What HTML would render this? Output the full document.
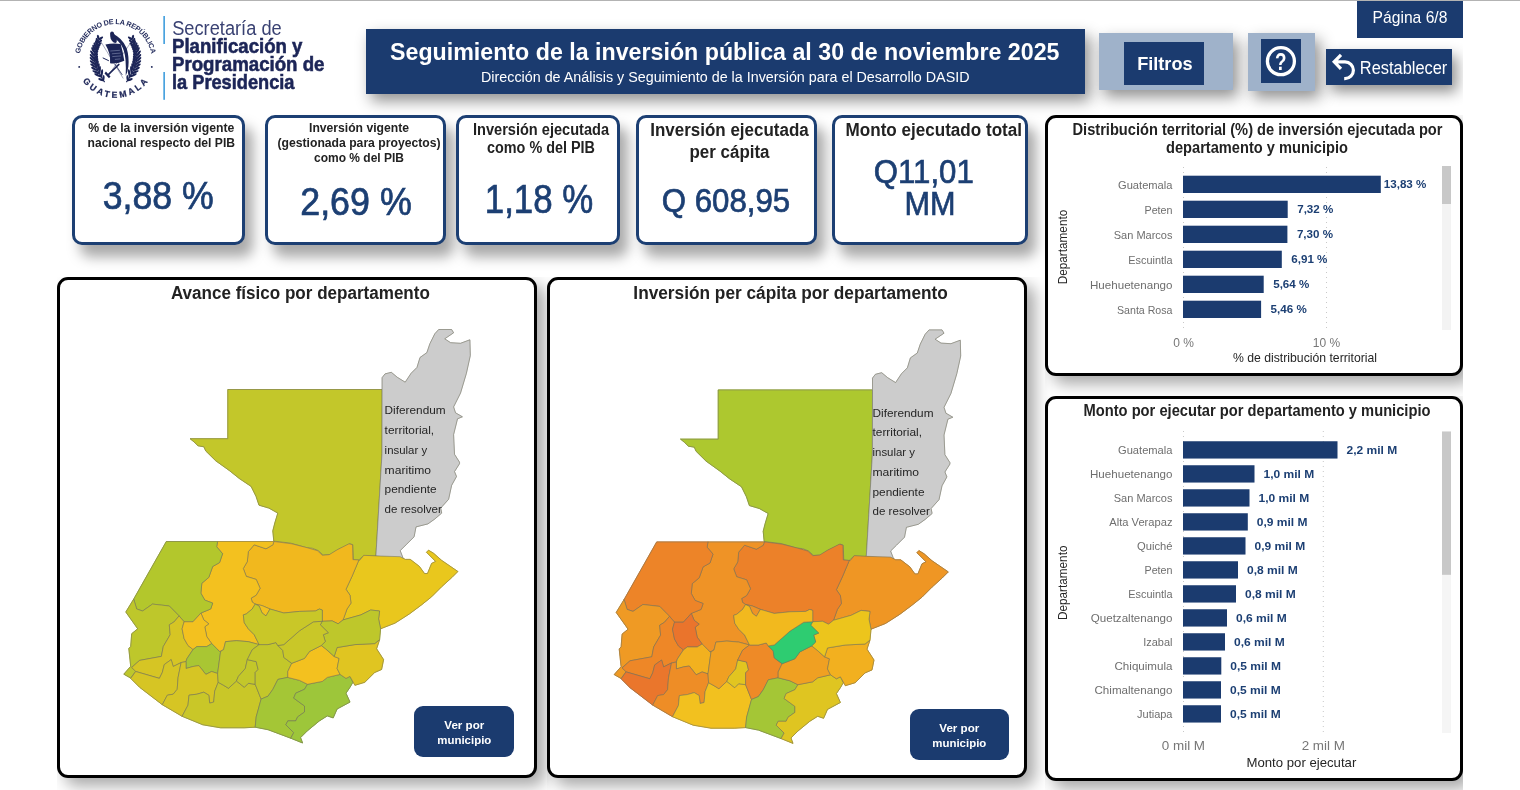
<!DOCTYPE html>
<html lang="es"><head><meta charset="utf-8"><title>Seguimiento de la inversión pública</title>
<style>
html,body{margin:0;padding:0;background:#fff}
body{width:1520px;height:790px;overflow:hidden;position:relative;font-family:"Liberation Sans",sans-serif}
#page{position:absolute;left:0;top:0;width:1463px;height:790px;overflow:hidden;background:#fff}
.b{position:absolute;box-sizing:border-box}
svg{position:absolute;left:0;top:0}
svg text{font-family:"Liberation Sans",sans-serif}
</style></head><body><div id="page">
<div class="b" style="left:366px;top:29px;width:719px;height:65px;background:#1b3b6f;box-shadow:5px 7px 14px rgba(0,0,0,.43);"></div>
<div class="b" style="left:1099px;top:33px;width:134px;height:57px;background:#9fb2ca;box-shadow:5px 7px 14px rgba(0,0,0,.43);"></div>
<div class="b" style="left:1124px;top:42px;width:79.5px;height:43px;background:#1b3b6f;"></div>
<div class="b" style="left:1248px;top:33px;width:66.5px;height:58px;background:#9fb2ca;box-shadow:5px 7px 14px rgba(0,0,0,.43);"></div>
<div class="b" style="left:1260.5px;top:39px;width:40.5px;height:43.5px;background:#1b3b6f;"></div>
<div class="b" style="left:1326px;top:49px;width:126px;height:35.7px;background:#1b3b6f;box-shadow:5px 7px 14px rgba(0,0,0,.43);"></div>
<div class="b" style="left:1357px;top:1px;width:106px;height:36.5px;background:#1b3b6f;"></div>
<div class="b" style="left:72px;top:115px;width:173px;height:129.5px;background:#fff;border:3px solid #1c3f73;border-radius:10px;box-shadow:8px 12px 13px rgba(0,0,0,.34);"></div>
<div class="b" style="left:265px;top:115px;width:181px;height:129.5px;background:#fff;border:3px solid #1c3f73;border-radius:10px;box-shadow:8px 12px 13px rgba(0,0,0,.34);"></div>
<div class="b" style="left:456px;top:115px;width:163.5px;height:129.5px;background:#fff;border:3px solid #1c3f73;border-radius:10px;box-shadow:8px 12px 13px rgba(0,0,0,.34);"></div>
<div class="b" style="left:636px;top:115px;width:180.6px;height:129.5px;background:#fff;border:3px solid #1c3f73;border-radius:10px;box-shadow:8px 12px 13px rgba(0,0,0,.34);"></div>
<div class="b" style="left:832px;top:115px;width:196px;height:129.5px;background:#fff;border:3px solid #1c3f73;border-radius:10px;box-shadow:8px 12px 13px rgba(0,0,0,.34);"></div>
<div class="b" style="left:57px;top:277px;width:480px;height:501px;background:#fff;border:3px solid #000;border-radius:11px;box-shadow:8px 8px 16px rgba(0,0,0,.34);clip-path:inset(0 -60px -60px 0);"></div>
<div class="b" style="left:547px;top:277px;width:480px;height:501px;background:#fff;border:3px solid #000;border-radius:11px;box-shadow:8px 8px 16px rgba(0,0,0,.34);clip-path:inset(0 -60px -60px 0);"></div>
<div class="b" style="left:1045px;top:115px;width:418px;height:260.5px;background:#fff;border:3px solid #000;border-radius:11px;box-shadow:8px 8px 16px rgba(0,0,0,.34);clip-path:inset(0 -60px -60px 0);"></div>
<div class="b" style="left:1045px;top:396px;width:418px;height:384.5px;background:#fff;border:3px solid #000;border-radius:11px;box-shadow:8px 8px 16px rgba(0,0,0,.34);clip-path:inset(0 -60px -60px 0);"></div>
<div class="b" style="left:414.2px;top:706px;width:99.8px;height:51px;background:#1b3b6f;border-radius:9px;"></div>
<div class="b" style="left:909.5px;top:709px;width:99.5px;height:51px;background:#1b3b6f;border-radius:9px;"></div>
<svg width="1463" height="790" viewBox="0 0 1463 790">
<text x="390" y="59.5" font-size="23" fill="#fff" textLength="669.5" lengthAdjust="spacingAndGlyphs" font-weight="bold">Seguimiento de la inversión pública al 30 de noviembre 2025</text>
<text x="481" y="82" font-size="14" fill="#fff" textLength="488.5" lengthAdjust="spacingAndGlyphs">Dirección de Análisis y Seguimiento de la Inversión para el Desarrollo DASID</text>
<text x="1164.9" y="69.6" font-size="18.6" fill="#fff" textLength="55.5" lengthAdjust="spacingAndGlyphs" text-anchor="middle" font-weight="bold">Filtros</text>
<text x="1372.6" y="23.1" font-size="15.7" fill="#fff" textLength="74.8" lengthAdjust="spacingAndGlyphs">Página 6/8</text>
<text x="1359.8" y="74" font-size="17.5" fill="#fff" textLength="87.5" lengthAdjust="spacingAndGlyphs">Restablecer</text>
<circle cx="1280.9" cy="61.2" r="13.5" fill="none" stroke="#fff" stroke-width="3.3"/>
<text x="1280.7" y="70.2" font-size="23" fill="#fff" textLength="11.5" lengthAdjust="spacingAndGlyphs" text-anchor="middle" font-weight="bold">?</text>
<path d="M1341 54.8 L1334.2 61.8 L1341 68.8 M1334.6 61.8 H1345 A8.4 8.4 0 0 1 1345 78.6 H1344.2" fill="none" stroke="#fff" stroke-width="3.2" stroke-linejoin="miter"/>
<rect x="163.3" y="16" width="1.7" height="28" fill="#4aa3df"/><rect x="163.3" y="72" width="1.7" height="27.8" fill="#4aa3df"/>
<text x="172.2" y="34.8" font-size="19.6" fill="#3a4273" textLength="109.5" lengthAdjust="spacingAndGlyphs">Secretaría de</text>
<text x="172" y="53" font-size="19.3" fill="#1c2557" textLength="130.5" lengthAdjust="spacingAndGlyphs" font-weight="bold" stroke="#1c2557" stroke-width="0.55">Planificación y</text>
<text x="172" y="71" font-size="19.3" fill="#1c2557" textLength="152.5" lengthAdjust="spacingAndGlyphs" font-weight="bold" stroke="#1c2557" stroke-width="0.55">Programación de</text>
<text x="172" y="89.1" font-size="19.3" fill="#1c2557" textLength="122.5" lengthAdjust="spacingAndGlyphs" font-weight="bold" stroke="#1c2557" stroke-width="0.55">la Presidencia</text>
<path id="arcT" d="M79.75 53.91 A36.2 36.2 0 0 1 151.05 53.91" fill="none"/>
<path id="arcB" d="M82.63 81.11 A40.5 40.5 0 0 0 148.17 81.11" fill="none"/>
<text font-size="7.2" font-weight="bold" fill="#1c2557" letter-spacing="-0.26"><textPath href="#arcT" startOffset="50%" text-anchor="middle">GOBIERNO DE LA REPÚBLICA</textPath></text>
<text font-size="8.7" font-weight="bold" fill="#1c2557" stroke="#1c2557" stroke-width="0.25"><textPath href="#arcB" textLength="75.5" lengthAdjust="spacing">GUATEMALA</textPath></text>
<circle cx="79.2" cy="66.9" r="0.95" fill="#1c2557"/><circle cx="151.8" cy="66.9" r="0.95" fill="#1c2557"/>
<g transform="translate(115.5,58.6)" fill="#1c2557" stroke="none"><path d="M10.9 23.6 L13.2 20.2 L15.2 16.5 L17.0 13.5 L18.5 10.5 L19.7 7.5 L20.5 4.7 L21.0 1.8 L21.3 -1.0 L21.3 -4.7 L20.9 -7.2 L20.3 -9.5 L19.4 -11.9 L18.3 -14.1 L17.2 -17.2 L16.0 -20.6" fill="none" stroke="#1c2557" stroke-width="1.2"/><ellipse cx="-14.6" cy="21.0" rx="2.8" ry="1.15" transform="rotate(-160 -14.6 21.0)"/><ellipse cx="-12.0" cy="19.2" rx="2.8" ry="1.15" transform="rotate(-88 -12.0 19.2)"/><ellipse cx="-17.7" cy="16.7" rx="3.9" ry="1.15" transform="rotate(-154 -17.7 16.7)"/><ellipse cx="-13.7" cy="14.5" rx="3.9" ry="1.15" transform="rotate(-82 -13.7 14.5)"/><ellipse cx="-19.6" cy="13.5" rx="3.8" ry="1.15" transform="rotate(-157 -19.6 13.5)"/><ellipse cx="-15.8" cy="11.2" rx="3.8" ry="1.15" transform="rotate(-85 -15.8 11.2)"/><ellipse cx="-21.0" cy="10.3" rx="3.7" ry="1.15" transform="rotate(-153 -21.0 10.3)"/><ellipse cx="-17.1" cy="8.4" rx="3.7" ry="1.15" transform="rotate(-81 -17.1 8.4)"/><ellipse cx="-22.1" cy="7.1" rx="3.6" ry="1.15" transform="rotate(-148 -22.1 7.1)"/><ellipse cx="-18.2" cy="5.5" rx="3.6" ry="1.15" transform="rotate(-76 -18.2 5.5)"/><ellipse cx="-22.8" cy="4.0" rx="3.5" ry="1.15" transform="rotate(-142 -22.8 4.0)"/><ellipse cx="-18.9" cy="2.8" rx="3.5" ry="1.15" transform="rotate(-70 -18.9 2.8)"/><ellipse cx="-23.2" cy="0.9" rx="3.4" ry="1.15" transform="rotate(-136 -23.2 0.9)"/><ellipse cx="-19.3" cy="0.2" rx="3.4" ry="1.15" transform="rotate(-64 -19.3 0.2)"/><ellipse cx="-23.3" cy="-2.0" rx="3.3" ry="1.15" transform="rotate(-132 -23.3 -2.0)"/><ellipse cx="-19.5" cy="-2.4" rx="3.3" ry="1.15" transform="rotate(-60 -19.5 -2.4)"/><ellipse cx="-23.2" cy="-5.4" rx="3.2" ry="1.15" transform="rotate(-126 -23.2 -5.4)"/><ellipse cx="-19.4" cy="-5.4" rx="3.2" ry="1.15" transform="rotate(-54 -19.4 -5.4)"/><ellipse cx="-22.5" cy="-8.7" rx="3.1" ry="1.15" transform="rotate(-117 -22.5 -8.7)"/><ellipse cx="-18.9" cy="-8.1" rx="3.1" ry="1.15" transform="rotate(-45 -18.9 -8.1)"/><ellipse cx="-21.7" cy="-11.1" rx="3.0" ry="1.15" transform="rotate(-111 -21.7 -11.1)"/><ellipse cx="-18.3" cy="-10.2" rx="3.0" ry="1.15" transform="rotate(-39 -18.3 -10.2)"/><ellipse cx="-20.6" cy="-13.5" rx="2.9" ry="1.15" transform="rotate(-105 -20.6 -13.5)"/><ellipse cx="-17.5" cy="-12.3" rx="2.9" ry="1.15" transform="rotate(-33 -17.5 -12.3)"/><ellipse cx="-19.3" cy="-15.7" rx="2.7" ry="1.15" transform="rotate(-99 -19.3 -15.7)"/><ellipse cx="-16.4" cy="-14.3" rx="2.7" ry="1.15" transform="rotate(-27 -16.4 -14.3)"/><ellipse cx="-18.5" cy="-18.2" rx="2.6" ry="1.15" transform="rotate(-106 -18.5 -18.2)"/><ellipse cx="-15.6" cy="-17.1" rx="2.6" ry="1.15" transform="rotate(-34 -15.6 -17.1)"/><ellipse cx="-17.3" cy="-21.3" rx="2.5" ry="1.15" transform="rotate(-107 -17.3 -21.3)"/><ellipse cx="-14.5" cy="-20.3" rx="2.5" ry="1.15" transform="rotate(-35 -14.5 -20.3)"/><path d="M-10.9 23.6 L-13.2 20.2 L-15.2 16.5 L-17.0 13.5 L-18.5 10.5 L-19.7 7.5 L-20.5 4.7 L-21.0 1.8 L-21.3 -1.0 L-21.3 -4.7 L-20.9 -7.2 L-20.3 -9.5 L-19.4 -11.9 L-18.3 -14.1 L-17.2 -17.2 L-16.0 -20.6" fill="none" stroke="#1c2557" stroke-width="1.2"/><ellipse cx="14.6" cy="21.0" rx="2.8" ry="1.15" transform="rotate(340 14.6 21.0)"/><ellipse cx="12.0" cy="19.2" rx="2.8" ry="1.15" transform="rotate(268 12.0 19.2)"/><ellipse cx="17.7" cy="16.7" rx="3.9" ry="1.15" transform="rotate(334 17.7 16.7)"/><ellipse cx="13.7" cy="14.5" rx="3.9" ry="1.15" transform="rotate(262 13.7 14.5)"/><ellipse cx="19.6" cy="13.5" rx="3.8" ry="1.15" transform="rotate(337 19.6 13.5)"/><ellipse cx="15.8" cy="11.2" rx="3.8" ry="1.15" transform="rotate(265 15.8 11.2)"/><ellipse cx="21.0" cy="10.3" rx="3.7" ry="1.15" transform="rotate(333 21.0 10.3)"/><ellipse cx="17.1" cy="8.4" rx="3.7" ry="1.15" transform="rotate(261 17.1 8.4)"/><ellipse cx="22.1" cy="7.1" rx="3.6" ry="1.15" transform="rotate(328 22.1 7.1)"/><ellipse cx="18.2" cy="5.5" rx="3.6" ry="1.15" transform="rotate(256 18.2 5.5)"/><ellipse cx="22.8" cy="4.0" rx="3.5" ry="1.15" transform="rotate(322 22.8 4.0)"/><ellipse cx="18.9" cy="2.8" rx="3.5" ry="1.15" transform="rotate(250 18.9 2.8)"/><ellipse cx="23.2" cy="0.9" rx="3.4" ry="1.15" transform="rotate(316 23.2 0.9)"/><ellipse cx="19.3" cy="0.2" rx="3.4" ry="1.15" transform="rotate(244 19.3 0.2)"/><ellipse cx="23.3" cy="-2.0" rx="3.3" ry="1.15" transform="rotate(312 23.3 -2.0)"/><ellipse cx="19.5" cy="-2.4" rx="3.3" ry="1.15" transform="rotate(240 19.5 -2.4)"/><ellipse cx="23.2" cy="-5.4" rx="3.2" ry="1.15" transform="rotate(306 23.2 -5.4)"/><ellipse cx="19.4" cy="-5.4" rx="3.2" ry="1.15" transform="rotate(234 19.4 -5.4)"/><ellipse cx="22.5" cy="-8.7" rx="3.1" ry="1.15" transform="rotate(297 22.5 -8.7)"/><ellipse cx="18.9" cy="-8.1" rx="3.1" ry="1.15" transform="rotate(225 18.9 -8.1)"/><ellipse cx="21.7" cy="-11.1" rx="3.0" ry="1.15" transform="rotate(291 21.7 -11.1)"/><ellipse cx="18.3" cy="-10.2" rx="3.0" ry="1.15" transform="rotate(219 18.3 -10.2)"/><ellipse cx="20.6" cy="-13.5" rx="2.9" ry="1.15" transform="rotate(285 20.6 -13.5)"/><ellipse cx="17.5" cy="-12.3" rx="2.9" ry="1.15" transform="rotate(213 17.5 -12.3)"/><ellipse cx="19.3" cy="-15.7" rx="2.7" ry="1.15" transform="rotate(279 19.3 -15.7)"/><ellipse cx="16.4" cy="-14.3" rx="2.7" ry="1.15" transform="rotate(207 16.4 -14.3)"/><ellipse cx="18.5" cy="-18.2" rx="2.6" ry="1.15" transform="rotate(286 18.5 -18.2)"/><ellipse cx="15.6" cy="-17.1" rx="2.6" ry="1.15" transform="rotate(214 15.6 -17.1)"/><ellipse cx="17.3" cy="-21.3" rx="2.5" ry="1.15" transform="rotate(287 17.3 -21.3)"/><ellipse cx="14.5" cy="-20.3" rx="2.5" ry="1.15" transform="rotate(215 14.5 -20.3)"/><g stroke="#1c2557" fill="none" stroke-linecap="round"><path d="M-14.8 -17.3 L7.5 19.5" stroke-width="0.55" opacity="0.7"/><path d="M15 -15.7 L-7.5 17.5" stroke-width="0.55" opacity="0.7"/><path d="M-7.2 16 L3.4 5.8" stroke-width="1.5"/><path d="M-0.3 5.9 L6.6 16" stroke-width="0.8"/><path d="M-12.4 -0.6 L-7 2" stroke-width="1"/></g><path d="M-9.6 13 L-5 18 L-6.5 19.6 L-11 15 Z"/><path d="M-10.1 -14.1 Q-2 -16 5.2 -14.6 Q7.6 -6 8.8 2.2 Q2 5.6 -5.4 4.7 Q-4.6 -5 -10.1 -14.1Z"/><g stroke="#8e96b8" stroke-width="0.55" fill="none"><path d="M-5.2 -7.6 L4.4 -8.3"/><path d="M-3.6 -4.8 L5 -5.5"/><path d="M-3.2 -2 L5.6 -2.7"/><path d="M-0.6 0.8 L4.8 0.3"/></g><circle cx="-3.5" cy="-25.4" r="1.8"/><path d="M-5.3 -24.6 Q-6 -19.5 -1.8 -16 Q1.2 -14.6 1.4 -17.6 Q0.8 -22.6 -2.2 -26 Z"/><path d="M-2.3 -24.6 Q6.6 -20.8 11.2 -10.4 Q13.8 -1.5 12.9 8 Q12.2 13.5 10.2 17.2 Q10.6 9 10 1 Q9.2 -8 5.6 -13.8 Q2.2 -18.6 -2.8 -21.4 Z"/></g>
<text x="161.3" y="132" font-size="13.2" fill="#222" textLength="146" lengthAdjust="spacingAndGlyphs" text-anchor="middle" font-weight="bold">% de la inversión vigente</text>
<text x="161.3" y="146.8" font-size="13.2" fill="#222" textLength="147.5" lengthAdjust="spacingAndGlyphs" text-anchor="middle" font-weight="bold">nacional respecto del PIB</text>
<text x="158.3" y="209" font-size="38" fill="#1c3f73" textLength="111" lengthAdjust="spacingAndGlyphs" text-anchor="middle" stroke="#1c3f73" stroke-width="0.7">3,88 %</text>
<text x="359" y="132" font-size="13.2" fill="#222" textLength="100" lengthAdjust="spacingAndGlyphs" text-anchor="middle" font-weight="bold">Inversión vigente</text>
<text x="359" y="146.8" font-size="13.2" fill="#222" textLength="163" lengthAdjust="spacingAndGlyphs" text-anchor="middle" font-weight="bold">(gestionada para proyectos)</text>
<text x="359" y="161.5" font-size="13.2" fill="#222" textLength="90" lengthAdjust="spacingAndGlyphs" text-anchor="middle" font-weight="bold">como % del PIB</text>
<text x="356" y="215.4" font-size="38" fill="#1c3f73" textLength="111.5" lengthAdjust="spacingAndGlyphs" text-anchor="middle" stroke="#1c3f73" stroke-width="0.7">2,69 %</text>
<text x="541" y="135" font-size="15.6" fill="#222" textLength="136" lengthAdjust="spacingAndGlyphs" text-anchor="middle" font-weight="bold">Inversión ejecutada</text>
<text x="541" y="153" font-size="15.6" fill="#222" textLength="108" lengthAdjust="spacingAndGlyphs" text-anchor="middle" font-weight="bold">como % del PIB</text>
<text x="539" y="212.5" font-size="40" fill="#1c3f73" textLength="108.5" lengthAdjust="spacingAndGlyphs" text-anchor="middle" stroke="#1c3f73" stroke-width="0.7">1,18 %</text>
<text x="729.5" y="136.3" font-size="18" fill="#222" textLength="158.5" lengthAdjust="spacingAndGlyphs" text-anchor="middle" font-weight="bold">Inversión ejecutada</text>
<text x="729.5" y="158" font-size="18" fill="#222" textLength="80" lengthAdjust="spacingAndGlyphs" text-anchor="middle" font-weight="bold">per cápita</text>
<text x="726" y="211.7" font-size="33" fill="#1c3f73" textLength="128.5" lengthAdjust="spacingAndGlyphs" text-anchor="middle" stroke="#1c3f73" stroke-width="0.7">Q 608,95</text>
<text x="933.8" y="136.3" font-size="18" fill="#222" textLength="176.5" lengthAdjust="spacingAndGlyphs" text-anchor="middle" font-weight="bold">Monto ejecutado total</text>
<text x="923.8" y="183" font-size="33.5" fill="#1c3f73" textLength="100" lengthAdjust="spacingAndGlyphs" text-anchor="middle" stroke="#1c3f73" stroke-width="0.7">Q11,01</text>
<text x="930" y="215" font-size="33.5" fill="#1c3f73" textLength="51" lengthAdjust="spacingAndGlyphs" text-anchor="middle" stroke="#1c3f73" stroke-width="0.7">MM</text>
<text x="300.4" y="299" font-size="19.2" fill="#222" textLength="259" lengthAdjust="spacingAndGlyphs" text-anchor="middle" font-weight="bold">Avance físico por departamento</text>
<text x="790.6" y="299.2" font-size="19.2" fill="#222" textLength="314.5" lengthAdjust="spacingAndGlyphs" text-anchor="middle" font-weight="bold">Inversión per cápita por departamento</text>
<text x="1257.5" y="135" font-size="15.6" fill="#222" textLength="370" lengthAdjust="spacingAndGlyphs" text-anchor="middle" font-weight="bold">Distribución territorial (%) de inversión ejecutada por</text>
<text x="1257" y="153" font-size="15.6" fill="#222" textLength="182" lengthAdjust="spacingAndGlyphs" text-anchor="middle" font-weight="bold">departamento y municipio</text>
<text x="1257" y="415.8" font-size="15.6" fill="#222" textLength="347" lengthAdjust="spacingAndGlyphs" text-anchor="middle" font-weight="bold">Monto por ejecutar por departamento y municipio</text>
<g><path d="M227.8 389.5L382.1 389.5L382.0 453.5L375.9 556.1L363.7 555.5L358.7 560.1L353.4 559.5L352.8 544.7L349.9 543.7L343.9 546.7L338.0 549.6L330.1 554.6L323.2 555.0L318.3 550.6L312.3 548.2L306.4 547.6L298.5 545.3L290.6 543.1L273.8 541.1L272.8 530.9L274.8 523.0L277.8 513.1L268.9 508.1L259.0 505.2L256.0 496.3L251.1 486.4L239.3 478.5L229.4 470.6L215.6 460.7L205.7 450.9L203.9 446.8L198.0 445.8L194.0 441.9L190.1 438.7L227.8 438.7Z" fill="#C3C72A" stroke="#C3C72A" stroke-width="1" stroke-linejoin="round"/>
<path d="M382.1 389.5L382.1 377.7L385.0 373.9L391.3 372.3L397.3 377.3L405.2 382.2L411.1 373.3L417.0 367.4L420.0 357.5L426.9 352.6L429.9 343.7L434.8 333.8L438.7 329.5L451.6 329.5L453.6 332.8L444.7 338.8L450.6 342.7L460.5 343.3L469.9 339.8L470.3 355.6L466.4 373.3L460.5 393.1L453.6 406.9L455.5 412.8L462.4 416.8L457.5 418.8L453.6 434.6L454.5 454.3L459.5 462.2L459.5 463.7L454.5 471.6L456.5 476.5L451.6 485.4L448.6 499.3L440.7 508.1L441.7 513.1L434.8 519.0L427.9 523.9L416.0 526.9L414.1 536.8L406.2 544.7L400.2 550.6L403.2 558.5L375.9 556.1L382.0 453.5Z" fill="#CCCCCC" stroke="#CCCCCC" stroke-width="1" stroke-linejoin="round"/>
<path d="M359.7 560.4L363.8 555.3L375.9 555.9L400.2 556.7L405.3 559.4L410.3 559.4L419.4 566.4L424.5 573.5L427.5 573.5L431.6 563.4L435.6 561.4L426.5 552.3L428.5 550.2L433.6 553.3L441.7 560.4L457.9 571.5L451.8 577.6L441.7 586.7L431.6 596.8L421.5 604.9L409.3 614.0L395.1 623.1L380.6 628.8L378.6 618.9L379.6 611.0L370.7 610.0L360.8 614.9L343.1 619.9L347.0 609.0L351.0 603.1L350.0 595.2L346.0 589.3L352.0 576.4L358.9 560.0Z" fill="#E9C71D" stroke="#E9C71D" stroke-width="1" stroke-linejoin="round"/>
<path d="M273.9 541.5L291.7 543.8L307.5 547.8L317.4 550.7L322.3 555.3L329.2 554.7L337.1 549.8L349.0 543.8L352.5 544.8L352.9 559.6L358.9 560.0L352.0 576.4L346.0 589.3L350.0 595.2L351.0 603.1L347.0 609.0L343.1 619.9L338.1 623.8L332.2 620.9L322.3 621.3L322.3 610.0L319.4 609.0L315.4 611.0L299.6 611.4L283.8 613.0L270.0 609.0L262.1 605.6L255.2 604.1L252.2 602.1L251.2 598.1L256.2 595.2L260.1 588.3L256.2 579.4L246.3 576.4L243.3 568.5L247.3 561.6L248.3 551.7L254.2 544.8L266.0 548.8L272.9 544.8Z" fill="#F1B81E" stroke="#F1B81E" stroke-width="1" stroke-linejoin="round"/>
<path d="M217.6 541.5L273.9 541.5L272.9 544.8L266.0 548.8L254.2 544.8L248.3 551.7L247.3 561.6L243.3 568.5L246.3 576.4L256.2 579.4L260.1 588.3L256.2 595.2L251.2 598.1L252.2 602.1L255.2 604.1L252.2 609.0L246.3 613.9L243.3 614.9L244.3 622.8L248.3 628.8L254.2 634.7L259.1 644.6L248.3 641.6L236.4 640.6L225.5 641.6L223.6 649.5L219.6 651.5L216.7 648.5L211.7 643.6L206.8 636.7L204.8 626.8L208.8 623.8L203.8 619.9L200.9 613.0L210.7 609.0L212.7 603.1L204.8 600.1L200.9 593.2L201.8 583.3L208.8 577.4L212.7 566.5L219.6 562.6L222.6 553.7L216.7 546.8Z" fill="#F3C11F" stroke="#F3C11F" stroke-width="1" stroke-linejoin="round"/>
<path d="M255.2 604.1L262.1 605.6L270.0 609.0L266.0 615.9L262.1 613.0L259.1 606.0Z" fill="#F3C11F" stroke="#F3C11F" stroke-width="1" stroke-linejoin="round"/>
<path d="M166.3 541.5L217.6 541.5L216.7 546.8L222.6 553.7L219.6 562.6L212.7 566.5L208.8 577.4L201.8 583.3L200.9 593.2L204.8 600.1L212.7 603.1L210.7 609.0L200.9 613.0L193.0 621.8L184.1 621.8L179.1 615.9L169.3 606.0L161.4 605.1L152.5 604.1L142.6 611.0L136.7 609.0L133.7 599.1Z" fill="#B3C72C" stroke="#B3C72C" stroke-width="1" stroke-linejoin="round"/>
<path d="M133.7 599.1L136.7 609.0L142.6 611.0L152.5 604.1L161.4 605.1L169.3 606.0L179.1 615.9L174.2 621.8L169.3 624.8L170.2 634.7L163.3 646.5L161.4 656.4L139.6 660.4L131.7 667.3L135.7 671.2L130.7 678.1L123.8 674.2L130.7 666.3L128.8 648.5L130.7 646.5L131.7 633.7L137.7 628.8L125.8 612.0Z" fill="#BEC72B" stroke="#BEC72B" stroke-width="1" stroke-linejoin="round"/>
<path d="M179.1 615.9L184.1 621.8L182.1 628.8L184.1 638.6L188.0 645.5L193.0 649.5L187.0 658.4L186.0 661.5L181.1 662.5L173.2 666.5L171.2 659.6L164.3 664.5L162.3 672.4L159.4 678.3L135.7 671.4L131.7 667.5L139.6 660.4L161.4 656.4L163.3 646.5L170.2 634.7L169.3 624.8L174.2 621.8Z" fill="#D6C524" stroke="#D6C524" stroke-width="1" stroke-linejoin="round"/>
<path d="M200.9 613.0L203.8 619.9L208.8 623.8L204.8 626.8L206.8 636.7L211.7 643.6L206.8 646.5L196.9 646.5L193.0 649.5L188.0 645.5L184.1 638.6L182.1 628.8L184.1 621.8L193.0 621.8Z" fill="#F3C11F" stroke="#F3C11F" stroke-width="1" stroke-linejoin="round"/>
<path d="M186.0 661.6L187.0 658.6L193.0 649.6L196.9 646.6L206.8 646.6L211.7 643.6L216.7 648.6L219.6 651.5L220.6 651.5L217.6 673.5L211.7 671.5L205.8 674.4L198.9 665.6L193.0 666.5L186.0 668.5Z" fill="#A9C633" stroke="#A9C633" stroke-width="1" stroke-linejoin="round"/>
<path d="M130.7 678.4L135.7 671.5L159.4 678.4L162.3 672.5L164.3 664.6L171.2 659.6L173.2 666.5L181.1 662.6L178.1 677.4L177.2 689.3L173.2 694.2L167.3 695.2L162.3 704.7L139.6 687.3Z" fill="#D6C524" stroke="#D6C524" stroke-width="1" stroke-linejoin="round"/>
<path d="M181.1 662.6L186.0 661.6L186.0 668.5L193.0 666.5L198.9 665.6L205.8 674.4L211.7 671.5L217.6 673.5L218.2 682.3L214.7 691.2L213.7 702.1L209.7 703.1L208.8 695.2L203.8 692.2L196.9 694.2L189.0 695.2L188.0 705.1L182.1 716.3L162.3 704.7L167.3 695.2L173.2 694.2L177.2 689.3L178.1 677.4Z" fill="#D6C524" stroke="#D6C524" stroke-width="1" stroke-linejoin="round"/>
<path d="M218.2 682.3L223.6 685.3L228.5 688.3L236.4 681.0L244.3 687.3L248.3 683.3L255.2 684.3L261.1 699.1L256.2 716.9L255.2 727.2L244.3 727.8L220.6 727.8L202.8 724.8L182.1 716.3L188.0 705.1L189.0 695.2L196.9 694.2L203.8 692.2L208.8 695.2L209.7 703.1L213.7 702.1L214.7 691.2Z" fill="#C9C728" stroke="#C9C728" stroke-width="1" stroke-linejoin="round"/>
<path d="M225.5 641.7L236.4 640.7L248.3 641.7L259.1 644.6L252.2 649.8L247.3 659.6L245.3 668.5L238.4 676.4L236.4 681.0L228.5 688.3L223.6 685.3L218.2 682.3L217.6 673.5L220.6 651.5L223.6 649.6Z" fill="#C3C72A" stroke="#C3C72A" stroke-width="1" stroke-linejoin="round"/>
<path d="M247.3 659.6L256.2 661.6L258.1 669.5L255.2 672.5L255.2 684.3L248.3 683.3L244.3 687.3L236.4 681.0L238.4 676.4L245.3 668.5Z" fill="#C3C72A" stroke="#C3C72A" stroke-width="1" stroke-linejoin="round"/>
<path d="M259.1 644.6L268.0 644.6L275.9 642.6L277.9 645.6L282.8 650.5L283.8 657.5L291.7 663.4L287.8 671.5L287.8 677.4L277.9 679.4L272.9 689.3L268.0 696.2L261.1 699.1L255.2 684.3L255.2 672.5L258.1 669.5L256.2 661.6L247.3 659.6L252.2 649.8Z" fill="#C3C72A" stroke="#C3C72A" stroke-width="1" stroke-linejoin="round"/>
<path d="M287.8 677.4L299.6 680.4L307.5 684.3L304.5 689.3L295.7 693.2L293.7 698.1L304.5 706.0L304.5 712.0L297.6 716.9L295.7 720.9L287.8 720.9L285.8 724.8L293.7 732.7L290.7 738.2L268.0 729.7L255.2 727.2L256.2 716.9L261.1 699.1L268.0 696.2L272.9 689.3L277.9 679.4Z" fill="#A4C636" stroke="#A4C636" stroke-width="1" stroke-linejoin="round"/>
<path d="M307.5 684.3L322.3 681.4L327.3 677.4L340.1 674.4L346.0 678.4L350.0 676.4L352.9 682.3L350.0 687.3L346.0 693.2L350.0 702.1L337.1 709.0L333.2 717.9L327.3 715.9L319.4 720.9L307.5 730.7L300.6 737.6L302.6 743.0L290.7 738.2L293.7 732.7L285.8 724.8L287.8 720.9L295.7 720.9L297.6 716.9L304.5 712.0L304.5 706.0L293.7 698.1L295.7 693.2L304.5 689.3Z" fill="#9DC63A" stroke="#9DC63A" stroke-width="1" stroke-linejoin="round"/>
<path d="M291.7 663.4L304.5 658.4L309.5 651.5L321.3 645.6L325.3 648.6L334.2 656.5L339.1 658.4L337.1 668.5L340.1 674.4L327.3 677.4L322.3 681.4L307.5 684.3L299.6 680.4L287.8 677.4L287.8 671.5Z" fill="#F3C11F" stroke="#F3C11F" stroke-width="1" stroke-linejoin="round"/>
<path d="M337.1 647.6L354.9 644.6L374.7 643.6L379.6 639.7L376.6 648.8L383.6 659.6L381.6 669.5L374.7 672.5L364.8 682.3L354.9 685.3L350.0 676.4L346.0 678.4L340.1 674.4L337.1 668.5L339.1 658.4L334.2 656.5Z" fill="#E0C521" stroke="#E0C521" stroke-width="1" stroke-linejoin="round"/>
<path d="M322.3 621.3L332.2 620.9L338.1 623.8L343.1 619.9L360.8 614.9L370.7 610.0L379.6 611.0L378.6 618.9L380.6 628.8L379.6 639.6L374.7 643.6L354.9 644.6L337.1 647.5L334.2 656.4L325.3 648.5L321.3 645.5L325.3 641.6L323.3 634.7L328.3 632.7L320.3 624.8Z" fill="#BEC72B" stroke="#BEC72B" stroke-width="1" stroke-linejoin="round"/>
<path d="M322.3 621.3L313.4 621.8L299.6 630.7L283.8 644.6L277.9 645.5L282.8 650.5L283.8 657.4L291.7 663.3L304.5 658.4L309.5 651.5L321.3 645.5L325.3 641.6L323.3 634.7L328.3 632.7L320.3 624.8Z" fill="#C9C728" stroke="#C9C728" stroke-width="1" stroke-linejoin="round"/>
<path d="M255.2 604.1L259.1 606.0L262.1 613.0L266.0 615.9L270.0 609.0L283.8 613.0L299.6 611.4L315.4 611.0L319.4 609.0L322.3 610.0L322.3 621.3L313.4 621.8L299.6 630.7L283.8 644.6L277.9 645.5L275.9 642.6L268.0 644.6L259.1 644.6L254.2 634.7L248.3 628.8L244.3 622.8L243.3 614.9L246.3 613.9L252.2 609.0Z" fill="#C9C728" stroke="#C9C728" stroke-width="1" stroke-linejoin="round"/>
<path d="M227.8 389.5L382.1 389.5L382.0 453.5L375.9 556.1L363.7 555.5L358.7 560.1L353.4 559.5L352.8 544.7L349.9 543.7L343.9 546.7L338.0 549.6L330.1 554.6L323.2 555.0L318.3 550.6L312.3 548.2L306.4 547.6L298.5 545.3L290.6 543.1L273.8 541.1L272.8 530.9L274.8 523.0L277.8 513.1L268.9 508.1L259.0 505.2L256.0 496.3L251.1 486.4L239.3 478.5L229.4 470.6L215.6 460.7L205.7 450.9L203.9 446.8L198.0 445.8L194.0 441.9L190.1 438.7L227.8 438.7Z" fill="#C3C72A" stroke="#72725f" stroke-width="0.55" stroke-linejoin="round"/>
<path d="M382.1 389.5L382.1 377.7L385.0 373.9L391.3 372.3L397.3 377.3L405.2 382.2L411.1 373.3L417.0 367.4L420.0 357.5L426.9 352.6L429.9 343.7L434.8 333.8L438.7 329.5L451.6 329.5L453.6 332.8L444.7 338.8L450.6 342.7L460.5 343.3L469.9 339.8L470.3 355.6L466.4 373.3L460.5 393.1L453.6 406.9L455.5 412.8L462.4 416.8L457.5 418.8L453.6 434.6L454.5 454.3L459.5 462.2L459.5 463.7L454.5 471.6L456.5 476.5L451.6 485.4L448.6 499.3L440.7 508.1L441.7 513.1L434.8 519.0L427.9 523.9L416.0 526.9L414.1 536.8L406.2 544.7L400.2 550.6L403.2 558.5L375.9 556.1L382.0 453.5Z" fill="#CCCCCC" stroke="#72725f" stroke-width="0.55" stroke-linejoin="round"/>
<path d="M359.7 560.4L363.8 555.3L375.9 555.9L400.2 556.7L405.3 559.4L410.3 559.4L419.4 566.4L424.5 573.5L427.5 573.5L431.6 563.4L435.6 561.4L426.5 552.3L428.5 550.2L433.6 553.3L441.7 560.4L457.9 571.5L451.8 577.6L441.7 586.7L431.6 596.8L421.5 604.9L409.3 614.0L395.1 623.1L380.6 628.8L378.6 618.9L379.6 611.0L370.7 610.0L360.8 614.9L343.1 619.9L347.0 609.0L351.0 603.1L350.0 595.2L346.0 589.3L352.0 576.4L358.9 560.0Z" fill="#E9C71D" stroke="#72725f" stroke-width="0.55" stroke-linejoin="round"/>
<path d="M273.9 541.5L291.7 543.8L307.5 547.8L317.4 550.7L322.3 555.3L329.2 554.7L337.1 549.8L349.0 543.8L352.5 544.8L352.9 559.6L358.9 560.0L352.0 576.4L346.0 589.3L350.0 595.2L351.0 603.1L347.0 609.0L343.1 619.9L338.1 623.8L332.2 620.9L322.3 621.3L322.3 610.0L319.4 609.0L315.4 611.0L299.6 611.4L283.8 613.0L270.0 609.0L262.1 605.6L255.2 604.1L252.2 602.1L251.2 598.1L256.2 595.2L260.1 588.3L256.2 579.4L246.3 576.4L243.3 568.5L247.3 561.6L248.3 551.7L254.2 544.8L266.0 548.8L272.9 544.8Z" fill="#F1B81E" stroke="#72725f" stroke-width="0.55" stroke-linejoin="round"/>
<path d="M217.6 541.5L273.9 541.5L272.9 544.8L266.0 548.8L254.2 544.8L248.3 551.7L247.3 561.6L243.3 568.5L246.3 576.4L256.2 579.4L260.1 588.3L256.2 595.2L251.2 598.1L252.2 602.1L255.2 604.1L252.2 609.0L246.3 613.9L243.3 614.9L244.3 622.8L248.3 628.8L254.2 634.7L259.1 644.6L248.3 641.6L236.4 640.6L225.5 641.6L223.6 649.5L219.6 651.5L216.7 648.5L211.7 643.6L206.8 636.7L204.8 626.8L208.8 623.8L203.8 619.9L200.9 613.0L210.7 609.0L212.7 603.1L204.8 600.1L200.9 593.2L201.8 583.3L208.8 577.4L212.7 566.5L219.6 562.6L222.6 553.7L216.7 546.8Z" fill="#F3C11F" stroke="#72725f" stroke-width="0.55" stroke-linejoin="round"/>
<path d="M255.2 604.1L262.1 605.6L270.0 609.0L266.0 615.9L262.1 613.0L259.1 606.0Z" fill="#F3C11F" stroke="#72725f" stroke-width="0.55" stroke-linejoin="round"/>
<path d="M166.3 541.5L217.6 541.5L216.7 546.8L222.6 553.7L219.6 562.6L212.7 566.5L208.8 577.4L201.8 583.3L200.9 593.2L204.8 600.1L212.7 603.1L210.7 609.0L200.9 613.0L193.0 621.8L184.1 621.8L179.1 615.9L169.3 606.0L161.4 605.1L152.5 604.1L142.6 611.0L136.7 609.0L133.7 599.1Z" fill="#B3C72C" stroke="#72725f" stroke-width="0.55" stroke-linejoin="round"/>
<path d="M133.7 599.1L136.7 609.0L142.6 611.0L152.5 604.1L161.4 605.1L169.3 606.0L179.1 615.9L174.2 621.8L169.3 624.8L170.2 634.7L163.3 646.5L161.4 656.4L139.6 660.4L131.7 667.3L135.7 671.2L130.7 678.1L123.8 674.2L130.7 666.3L128.8 648.5L130.7 646.5L131.7 633.7L137.7 628.8L125.8 612.0Z" fill="#BEC72B" stroke="#72725f" stroke-width="0.55" stroke-linejoin="round"/>
<path d="M179.1 615.9L184.1 621.8L182.1 628.8L184.1 638.6L188.0 645.5L193.0 649.5L187.0 658.4L186.0 661.5L181.1 662.5L173.2 666.5L171.2 659.6L164.3 664.5L162.3 672.4L159.4 678.3L135.7 671.4L131.7 667.5L139.6 660.4L161.4 656.4L163.3 646.5L170.2 634.7L169.3 624.8L174.2 621.8Z" fill="#D6C524" stroke="#72725f" stroke-width="0.55" stroke-linejoin="round"/>
<path d="M200.9 613.0L203.8 619.9L208.8 623.8L204.8 626.8L206.8 636.7L211.7 643.6L206.8 646.5L196.9 646.5L193.0 649.5L188.0 645.5L184.1 638.6L182.1 628.8L184.1 621.8L193.0 621.8Z" fill="#F3C11F" stroke="#72725f" stroke-width="0.55" stroke-linejoin="round"/>
<path d="M186.0 661.6L187.0 658.6L193.0 649.6L196.9 646.6L206.8 646.6L211.7 643.6L216.7 648.6L219.6 651.5L220.6 651.5L217.6 673.5L211.7 671.5L205.8 674.4L198.9 665.6L193.0 666.5L186.0 668.5Z" fill="#A9C633" stroke="#72725f" stroke-width="0.55" stroke-linejoin="round"/>
<path d="M130.7 678.4L135.7 671.5L159.4 678.4L162.3 672.5L164.3 664.6L171.2 659.6L173.2 666.5L181.1 662.6L178.1 677.4L177.2 689.3L173.2 694.2L167.3 695.2L162.3 704.7L139.6 687.3Z" fill="#D6C524" stroke="#72725f" stroke-width="0.55" stroke-linejoin="round"/>
<path d="M181.1 662.6L186.0 661.6L186.0 668.5L193.0 666.5L198.9 665.6L205.8 674.4L211.7 671.5L217.6 673.5L218.2 682.3L214.7 691.2L213.7 702.1L209.7 703.1L208.8 695.2L203.8 692.2L196.9 694.2L189.0 695.2L188.0 705.1L182.1 716.3L162.3 704.7L167.3 695.2L173.2 694.2L177.2 689.3L178.1 677.4Z" fill="#D6C524" stroke="#72725f" stroke-width="0.55" stroke-linejoin="round"/>
<path d="M218.2 682.3L223.6 685.3L228.5 688.3L236.4 681.0L244.3 687.3L248.3 683.3L255.2 684.3L261.1 699.1L256.2 716.9L255.2 727.2L244.3 727.8L220.6 727.8L202.8 724.8L182.1 716.3L188.0 705.1L189.0 695.2L196.9 694.2L203.8 692.2L208.8 695.2L209.7 703.1L213.7 702.1L214.7 691.2Z" fill="#C9C728" stroke="#72725f" stroke-width="0.55" stroke-linejoin="round"/>
<path d="M225.5 641.7L236.4 640.7L248.3 641.7L259.1 644.6L252.2 649.8L247.3 659.6L245.3 668.5L238.4 676.4L236.4 681.0L228.5 688.3L223.6 685.3L218.2 682.3L217.6 673.5L220.6 651.5L223.6 649.6Z" fill="#C3C72A" stroke="#72725f" stroke-width="0.55" stroke-linejoin="round"/>
<path d="M247.3 659.6L256.2 661.6L258.1 669.5L255.2 672.5L255.2 684.3L248.3 683.3L244.3 687.3L236.4 681.0L238.4 676.4L245.3 668.5Z" fill="#C3C72A" stroke="#72725f" stroke-width="0.55" stroke-linejoin="round"/>
<path d="M259.1 644.6L268.0 644.6L275.9 642.6L277.9 645.6L282.8 650.5L283.8 657.5L291.7 663.4L287.8 671.5L287.8 677.4L277.9 679.4L272.9 689.3L268.0 696.2L261.1 699.1L255.2 684.3L255.2 672.5L258.1 669.5L256.2 661.6L247.3 659.6L252.2 649.8Z" fill="#C3C72A" stroke="#72725f" stroke-width="0.55" stroke-linejoin="round"/>
<path d="M287.8 677.4L299.6 680.4L307.5 684.3L304.5 689.3L295.7 693.2L293.7 698.1L304.5 706.0L304.5 712.0L297.6 716.9L295.7 720.9L287.8 720.9L285.8 724.8L293.7 732.7L290.7 738.2L268.0 729.7L255.2 727.2L256.2 716.9L261.1 699.1L268.0 696.2L272.9 689.3L277.9 679.4Z" fill="#A4C636" stroke="#72725f" stroke-width="0.55" stroke-linejoin="round"/>
<path d="M307.5 684.3L322.3 681.4L327.3 677.4L340.1 674.4L346.0 678.4L350.0 676.4L352.9 682.3L350.0 687.3L346.0 693.2L350.0 702.1L337.1 709.0L333.2 717.9L327.3 715.9L319.4 720.9L307.5 730.7L300.6 737.6L302.6 743.0L290.7 738.2L293.7 732.7L285.8 724.8L287.8 720.9L295.7 720.9L297.6 716.9L304.5 712.0L304.5 706.0L293.7 698.1L295.7 693.2L304.5 689.3Z" fill="#9DC63A" stroke="#72725f" stroke-width="0.55" stroke-linejoin="round"/>
<path d="M291.7 663.4L304.5 658.4L309.5 651.5L321.3 645.6L325.3 648.6L334.2 656.5L339.1 658.4L337.1 668.5L340.1 674.4L327.3 677.4L322.3 681.4L307.5 684.3L299.6 680.4L287.8 677.4L287.8 671.5Z" fill="#F3C11F" stroke="#72725f" stroke-width="0.55" stroke-linejoin="round"/>
<path d="M337.1 647.6L354.9 644.6L374.7 643.6L379.6 639.7L376.6 648.8L383.6 659.6L381.6 669.5L374.7 672.5L364.8 682.3L354.9 685.3L350.0 676.4L346.0 678.4L340.1 674.4L337.1 668.5L339.1 658.4L334.2 656.5Z" fill="#E0C521" stroke="#72725f" stroke-width="0.55" stroke-linejoin="round"/>
<path d="M322.3 621.3L332.2 620.9L338.1 623.8L343.1 619.9L360.8 614.9L370.7 610.0L379.6 611.0L378.6 618.9L380.6 628.8L379.6 639.6L374.7 643.6L354.9 644.6L337.1 647.5L334.2 656.4L325.3 648.5L321.3 645.5L325.3 641.6L323.3 634.7L328.3 632.7L320.3 624.8Z" fill="#BEC72B" stroke="#72725f" stroke-width="0.55" stroke-linejoin="round"/>
<path d="M322.3 621.3L313.4 621.8L299.6 630.7L283.8 644.6L277.9 645.5L282.8 650.5L283.8 657.4L291.7 663.3L304.5 658.4L309.5 651.5L321.3 645.5L325.3 641.6L323.3 634.7L328.3 632.7L320.3 624.8Z" fill="#C9C728" stroke="#72725f" stroke-width="0.55" stroke-linejoin="round"/>
<path d="M255.2 604.1L259.1 606.0L262.1 613.0L266.0 615.9L270.0 609.0L283.8 613.0L299.6 611.4L315.4 611.0L319.4 609.0L322.3 610.0L322.3 621.3L313.4 621.8L299.6 630.7L283.8 644.6L277.9 645.5L275.9 642.6L268.0 644.6L259.1 644.6L254.2 634.7L248.3 628.8L244.3 622.8L243.3 614.9L246.3 613.9L252.2 609.0Z" fill="#C9C728" stroke="#72725f" stroke-width="0.55" stroke-linejoin="round"/></g>
<g><path d="M718.2 389.9L872.5 389.9L872.4 453.9L866.3 556.5L854.1 555.9L849.1 560.5L843.8 559.9L843.2 545.1L840.3 544.1L834.3 547.1L828.4 550.0L820.5 555.0L813.6 555.4L808.7 551.0L802.7 548.6L796.8 548.0L788.9 545.7L781.0 543.5L764.2 541.5L763.2 531.3L765.2 523.4L768.2 513.5L759.3 508.5L749.4 505.6L746.4 496.7L741.5 486.8L729.7 478.9L719.8 471.0L706.0 461.1L696.1 451.3L694.3 447.2L688.4 446.2L684.4 442.3L680.5 439.1L718.2 439.1Z" fill="#ADC82F" stroke="#ADC82F" stroke-width="1" stroke-linejoin="round"/>
<path d="M872.5 389.9L872.5 378.1L875.4 374.3L881.7 372.7L887.7 377.7L895.6 382.6L901.5 373.7L907.4 367.8L910.4 357.9L917.3 353.0L920.3 344.1L925.2 334.2L929.1 329.9L942.0 329.9L944.0 333.2L935.1 339.2L941.0 343.1L950.9 343.7L960.3 340.2L960.7 356.0L956.8 373.7L950.9 393.5L944.0 407.3L945.9 413.2L952.8 417.2L947.9 419.2L944.0 435.0L944.9 454.7L949.9 462.6L949.9 464.1L944.9 472.0L946.9 476.9L942.0 485.8L939.0 499.7L931.1 508.5L932.1 513.5L925.2 519.4L918.3 524.3L906.4 527.3L904.5 537.2L896.6 545.1L890.6 551.0L893.6 558.9L866.3 556.5L872.4 453.9Z" fill="#CCCCCC" stroke="#CCCCCC" stroke-width="1" stroke-linejoin="round"/>
<path d="M850.1 560.8L854.2 555.7L866.3 556.3L890.6 557.1L895.7 559.8L900.7 559.8L909.8 566.8L914.9 573.9L917.9 573.9L922.0 563.8L926.0 561.8L916.9 552.7L918.9 550.6L924.0 553.7L932.1 560.8L948.3 571.9L942.2 578.0L932.1 587.1L922.0 597.2L911.9 605.3L899.7 614.4L885.5 623.5L871.0 629.2L869.0 619.3L870.0 611.4L861.1 610.4L851.2 615.3L833.5 620.3L837.4 609.4L841.4 603.5L840.4 595.6L836.4 589.7L842.4 576.8L849.3 560.4Z" fill="#EF9624" stroke="#EF9624" stroke-width="1" stroke-linejoin="round"/>
<path d="M764.3 541.9L782.1 544.2L797.9 548.2L807.8 551.1L812.7 555.7L819.6 555.1L827.5 550.2L839.4 544.2L842.9 545.2L843.3 560.0L849.3 560.4L842.4 576.8L836.4 589.7L840.4 595.6L841.4 603.5L837.4 609.4L833.5 620.3L828.5 624.2L822.6 621.3L812.7 621.7L812.7 610.4L809.8 609.4L805.8 611.4L790.0 611.8L774.2 613.4L760.4 609.4L752.5 606.0L745.6 604.5L742.6 602.5L741.6 598.5L746.6 595.6L750.5 588.7L746.6 579.8L736.7 576.8L733.7 568.9L737.7 562.0L738.7 552.1L744.6 545.2L756.4 549.2L763.3 545.2Z" fill="#EC8129" stroke="#EC8129" stroke-width="1" stroke-linejoin="round"/>
<path d="M708.0 541.9L764.3 541.9L763.3 545.2L756.4 549.2L744.6 545.2L738.7 552.1L737.7 562.0L733.7 568.9L736.7 576.8L746.6 579.8L750.5 588.7L746.6 595.6L741.6 598.5L742.6 602.5L745.6 604.5L742.6 609.4L736.7 614.3L733.7 615.3L734.7 623.2L738.7 629.2L744.6 635.1L749.5 645.0L738.7 642.0L726.8 641.0L715.9 642.0L714.0 649.9L710.0 651.9L707.1 648.9L702.1 644.0L697.2 637.1L695.2 627.2L699.2 624.2L694.2 620.3L691.3 613.4L701.1 609.4L703.1 603.5L695.2 600.5L691.3 593.6L692.2 583.7L699.2 577.8L703.1 566.9L710.0 563.0L713.0 554.1L707.1 547.2Z" fill="#EF9326" stroke="#EF9326" stroke-width="1" stroke-linejoin="round"/>
<path d="M745.6 604.5L752.5 606.0L760.4 609.4L756.4 616.3L752.5 613.4L749.5 606.4Z" fill="#EF9326" stroke="#EF9326" stroke-width="1" stroke-linejoin="round"/>
<path d="M656.7 541.9L708.0 541.9L707.1 547.2L713.0 554.1L710.0 563.0L703.1 566.9L699.2 577.8L692.2 583.7L691.3 593.6L695.2 600.5L703.1 603.5L701.1 609.4L691.3 613.4L683.4 622.2L674.5 622.2L669.5 616.3L659.7 606.4L651.8 605.5L642.9 604.5L633.0 611.4L627.1 609.4L624.1 599.5Z" fill="#ED8428" stroke="#ED8428" stroke-width="1" stroke-linejoin="round"/>
<path d="M624.1 599.5L627.1 609.4L633.0 611.4L642.9 604.5L651.8 605.5L659.7 606.4L669.5 616.3L664.6 622.2L659.7 625.2L660.6 635.1L653.7 646.9L651.8 656.8L630.0 660.8L622.1 667.7L626.1 671.6L621.1 678.5L614.2 674.6L621.1 666.7L619.2 648.9L621.1 646.9L622.1 634.1L628.1 629.2L616.2 612.4Z" fill="#EF9A24" stroke="#EF9A24" stroke-width="1" stroke-linejoin="round"/>
<path d="M669.5 616.3L674.5 622.2L672.5 629.2L674.5 639.0L678.4 645.9L683.4 649.9L677.4 658.8L676.4 661.9L671.5 662.9L663.6 666.9L661.6 660.0L654.7 664.9L652.7 672.8L649.8 678.7L626.1 671.8L622.1 667.9L630.0 660.8L651.8 656.8L653.7 646.9L660.6 635.1L659.7 625.2L664.6 622.2Z" fill="#EE8727" stroke="#EE8727" stroke-width="1" stroke-linejoin="round"/>
<path d="M691.3 613.4L694.2 620.3L699.2 624.2L695.2 627.2L697.2 637.1L702.1 644.0L697.2 646.9L687.3 646.9L683.4 649.9L678.4 645.9L674.5 639.0L672.5 629.2L674.5 622.2L683.4 622.2Z" fill="#EA742C" stroke="#EA742C" stroke-width="1" stroke-linejoin="round"/>
<path d="M676.4 662.0L677.4 659.0L683.4 650.0L687.3 647.0L697.2 647.0L702.1 644.0L707.1 649.0L710.0 651.9L711.0 651.9L708.0 673.9L702.1 671.9L696.2 674.8L689.3 666.0L683.4 666.9L676.4 668.9Z" fill="#F2B11F" stroke="#F2B11F" stroke-width="1" stroke-linejoin="round"/>
<path d="M621.1 678.8L626.1 671.9L649.8 678.8L652.7 672.9L654.7 665.0L661.6 660.0L663.6 666.9L671.5 663.0L668.5 677.8L667.6 689.7L663.6 694.6L657.7 695.6L652.7 705.1L630.0 687.7Z" fill="#EA762C" stroke="#EA762C" stroke-width="1" stroke-linejoin="round"/>
<path d="M671.5 663.0L676.4 662.0L676.4 668.9L683.4 666.9L689.3 666.0L696.2 674.8L702.1 671.9L708.0 673.9L708.6 682.7L705.1 691.6L704.1 702.5L700.1 703.5L699.2 695.6L694.2 692.6L687.3 694.6L679.4 695.6L678.4 705.5L672.5 716.7L652.7 705.1L657.7 695.6L663.6 694.6L667.6 689.7L668.5 677.8Z" fill="#EE8D26" stroke="#EE8D26" stroke-width="1" stroke-linejoin="round"/>
<path d="M708.6 682.7L714.0 685.7L718.9 688.7L726.8 681.4L734.7 687.7L738.7 683.7L745.6 684.7L751.5 699.5L746.6 717.3L745.6 727.6L734.7 728.2L711.0 728.2L693.2 725.2L672.5 716.7L678.4 705.5L679.4 695.6L687.3 694.6L694.2 692.6L699.2 695.6L700.1 703.5L704.1 702.5L705.1 691.6Z" fill="#F2C11F" stroke="#F2C11F" stroke-width="1" stroke-linejoin="round"/>
<path d="M715.9 642.1L726.8 641.1L738.7 642.1L749.5 645.0L742.6 650.2L737.7 660.0L735.7 668.9L728.8 676.8L726.8 681.4L718.9 688.7L714.0 685.7L708.6 682.7L708.0 673.9L711.0 651.9L714.0 650.0Z" fill="#F0A022" stroke="#F0A022" stroke-width="1" stroke-linejoin="round"/>
<path d="M737.7 660.0L746.6 662.0L748.5 669.9L745.6 672.9L745.6 684.7L738.7 683.7L734.7 687.7L726.8 681.4L728.8 676.8L735.7 668.9Z" fill="#E2C520" stroke="#E2C520" stroke-width="1" stroke-linejoin="round"/>
<path d="M749.5 645.0L758.4 645.0L766.3 643.0L768.3 646.0L773.2 650.9L774.2 657.9L782.1 663.8L778.2 671.9L778.2 677.8L768.3 679.8L763.3 689.7L758.4 696.6L751.5 699.5L745.6 684.7L745.6 672.9L748.5 669.9L746.6 662.0L737.7 660.0L742.6 650.2Z" fill="#EE8A27" stroke="#EE8A27" stroke-width="1" stroke-linejoin="round"/>
<path d="M778.2 677.8L790.0 680.8L797.9 684.7L794.9 689.7L786.1 693.6L784.1 698.5L794.9 706.4L794.9 712.4L788.0 717.3L786.1 721.3L778.2 721.3L776.2 725.2L784.1 733.1L781.1 738.6L758.4 730.1L745.6 727.6L746.6 717.3L751.5 699.5L758.4 696.6L763.3 689.7L768.3 679.8Z" fill="#A4C636" stroke="#A4C636" stroke-width="1" stroke-linejoin="round"/>
<path d="M797.9 684.7L812.7 681.8L817.7 677.8L830.5 674.8L836.4 678.8L840.4 676.8L843.3 682.7L840.4 687.7L836.4 693.6L840.4 702.5L827.5 709.4L823.6 718.3L817.7 716.3L809.8 721.3L797.9 731.1L791.0 738.0L793.0 743.4L781.1 738.6L784.1 733.1L776.2 725.2L778.2 721.3L786.1 721.3L788.0 717.3L794.9 712.4L794.9 706.4L784.1 698.5L786.1 693.6L794.9 689.7Z" fill="#DFC521" stroke="#DFC521" stroke-width="1" stroke-linejoin="round"/>
<path d="M782.1 663.8L794.9 658.8L799.9 651.9L811.7 646.0L815.7 649.0L824.6 656.9L829.5 658.8L827.5 668.9L830.5 674.8L817.7 677.8L812.7 681.8L797.9 684.7L790.0 680.8L778.2 677.8L778.2 671.9Z" fill="#F0A022" stroke="#F0A022" stroke-width="1" stroke-linejoin="round"/>
<path d="M827.5 648.0L845.3 645.0L865.1 644.0L870.0 640.1L867.0 649.2L874.0 660.0L872.0 669.9L865.1 672.9L855.2 682.7L845.3 685.7L840.4 676.8L836.4 678.8L830.5 674.8L827.5 668.9L829.5 658.8L824.6 656.9Z" fill="#F2B01F" stroke="#F2B01F" stroke-width="1" stroke-linejoin="round"/>
<path d="M812.7 621.7L822.6 621.3L828.5 624.2L833.5 620.3L851.2 615.3L861.1 610.4L870.0 611.4L869.0 619.3L871.0 629.2L870.0 640.0L865.1 644.0L845.3 645.0L827.5 647.9L824.6 656.8L815.7 648.9L811.7 645.9L815.7 642.0L813.7 635.1L818.7 633.1L810.7 625.2Z" fill="#ECC51C" stroke="#ECC51C" stroke-width="1" stroke-linejoin="round"/>
<path d="M812.7 621.7L803.8 622.2L790.0 631.1L774.2 645.0L768.3 645.9L773.2 650.9L774.2 657.8L782.1 663.7L794.9 658.8L799.9 651.9L811.7 645.9L815.7 642.0L813.7 635.1L818.7 633.1L810.7 625.2Z" fill="#2ECC71" stroke="#2ECC71" stroke-width="1" stroke-linejoin="round"/>
<path d="M745.6 604.5L749.5 606.4L752.5 613.4L756.4 616.3L760.4 609.4L774.2 613.4L790.0 611.8L805.8 611.4L809.8 609.4L812.7 610.4L812.7 621.7L803.8 622.2L790.0 631.1L774.2 645.0L768.3 645.9L766.3 643.0L758.4 645.0L749.5 645.0L744.6 635.1L738.7 629.2L734.7 623.2L733.7 615.3L736.7 614.3L742.6 609.4Z" fill="#F2B91E" stroke="#F2B91E" stroke-width="1" stroke-linejoin="round"/>
<path d="M718.2 389.9L872.5 389.9L872.4 453.9L866.3 556.5L854.1 555.9L849.1 560.5L843.8 559.9L843.2 545.1L840.3 544.1L834.3 547.1L828.4 550.0L820.5 555.0L813.6 555.4L808.7 551.0L802.7 548.6L796.8 548.0L788.9 545.7L781.0 543.5L764.2 541.5L763.2 531.3L765.2 523.4L768.2 513.5L759.3 508.5L749.4 505.6L746.4 496.7L741.5 486.8L729.7 478.9L719.8 471.0L706.0 461.1L696.1 451.3L694.3 447.2L688.4 446.2L684.4 442.3L680.5 439.1L718.2 439.1Z" fill="#ADC82F" stroke="#72725f" stroke-width="0.55" stroke-linejoin="round"/>
<path d="M872.5 389.9L872.5 378.1L875.4 374.3L881.7 372.7L887.7 377.7L895.6 382.6L901.5 373.7L907.4 367.8L910.4 357.9L917.3 353.0L920.3 344.1L925.2 334.2L929.1 329.9L942.0 329.9L944.0 333.2L935.1 339.2L941.0 343.1L950.9 343.7L960.3 340.2L960.7 356.0L956.8 373.7L950.9 393.5L944.0 407.3L945.9 413.2L952.8 417.2L947.9 419.2L944.0 435.0L944.9 454.7L949.9 462.6L949.9 464.1L944.9 472.0L946.9 476.9L942.0 485.8L939.0 499.7L931.1 508.5L932.1 513.5L925.2 519.4L918.3 524.3L906.4 527.3L904.5 537.2L896.6 545.1L890.6 551.0L893.6 558.9L866.3 556.5L872.4 453.9Z" fill="#CCCCCC" stroke="#72725f" stroke-width="0.55" stroke-linejoin="round"/>
<path d="M850.1 560.8L854.2 555.7L866.3 556.3L890.6 557.1L895.7 559.8L900.7 559.8L909.8 566.8L914.9 573.9L917.9 573.9L922.0 563.8L926.0 561.8L916.9 552.7L918.9 550.6L924.0 553.7L932.1 560.8L948.3 571.9L942.2 578.0L932.1 587.1L922.0 597.2L911.9 605.3L899.7 614.4L885.5 623.5L871.0 629.2L869.0 619.3L870.0 611.4L861.1 610.4L851.2 615.3L833.5 620.3L837.4 609.4L841.4 603.5L840.4 595.6L836.4 589.7L842.4 576.8L849.3 560.4Z" fill="#EF9624" stroke="#72725f" stroke-width="0.55" stroke-linejoin="round"/>
<path d="M764.3 541.9L782.1 544.2L797.9 548.2L807.8 551.1L812.7 555.7L819.6 555.1L827.5 550.2L839.4 544.2L842.9 545.2L843.3 560.0L849.3 560.4L842.4 576.8L836.4 589.7L840.4 595.6L841.4 603.5L837.4 609.4L833.5 620.3L828.5 624.2L822.6 621.3L812.7 621.7L812.7 610.4L809.8 609.4L805.8 611.4L790.0 611.8L774.2 613.4L760.4 609.4L752.5 606.0L745.6 604.5L742.6 602.5L741.6 598.5L746.6 595.6L750.5 588.7L746.6 579.8L736.7 576.8L733.7 568.9L737.7 562.0L738.7 552.1L744.6 545.2L756.4 549.2L763.3 545.2Z" fill="#EC8129" stroke="#72725f" stroke-width="0.55" stroke-linejoin="round"/>
<path d="M708.0 541.9L764.3 541.9L763.3 545.2L756.4 549.2L744.6 545.2L738.7 552.1L737.7 562.0L733.7 568.9L736.7 576.8L746.6 579.8L750.5 588.7L746.6 595.6L741.6 598.5L742.6 602.5L745.6 604.5L742.6 609.4L736.7 614.3L733.7 615.3L734.7 623.2L738.7 629.2L744.6 635.1L749.5 645.0L738.7 642.0L726.8 641.0L715.9 642.0L714.0 649.9L710.0 651.9L707.1 648.9L702.1 644.0L697.2 637.1L695.2 627.2L699.2 624.2L694.2 620.3L691.3 613.4L701.1 609.4L703.1 603.5L695.2 600.5L691.3 593.6L692.2 583.7L699.2 577.8L703.1 566.9L710.0 563.0L713.0 554.1L707.1 547.2Z" fill="#EF9326" stroke="#72725f" stroke-width="0.55" stroke-linejoin="round"/>
<path d="M745.6 604.5L752.5 606.0L760.4 609.4L756.4 616.3L752.5 613.4L749.5 606.4Z" fill="#EF9326" stroke="#72725f" stroke-width="0.55" stroke-linejoin="round"/>
<path d="M656.7 541.9L708.0 541.9L707.1 547.2L713.0 554.1L710.0 563.0L703.1 566.9L699.2 577.8L692.2 583.7L691.3 593.6L695.2 600.5L703.1 603.5L701.1 609.4L691.3 613.4L683.4 622.2L674.5 622.2L669.5 616.3L659.7 606.4L651.8 605.5L642.9 604.5L633.0 611.4L627.1 609.4L624.1 599.5Z" fill="#ED8428" stroke="#72725f" stroke-width="0.55" stroke-linejoin="round"/>
<path d="M624.1 599.5L627.1 609.4L633.0 611.4L642.9 604.5L651.8 605.5L659.7 606.4L669.5 616.3L664.6 622.2L659.7 625.2L660.6 635.1L653.7 646.9L651.8 656.8L630.0 660.8L622.1 667.7L626.1 671.6L621.1 678.5L614.2 674.6L621.1 666.7L619.2 648.9L621.1 646.9L622.1 634.1L628.1 629.2L616.2 612.4Z" fill="#EF9A24" stroke="#72725f" stroke-width="0.55" stroke-linejoin="round"/>
<path d="M669.5 616.3L674.5 622.2L672.5 629.2L674.5 639.0L678.4 645.9L683.4 649.9L677.4 658.8L676.4 661.9L671.5 662.9L663.6 666.9L661.6 660.0L654.7 664.9L652.7 672.8L649.8 678.7L626.1 671.8L622.1 667.9L630.0 660.8L651.8 656.8L653.7 646.9L660.6 635.1L659.7 625.2L664.6 622.2Z" fill="#EE8727" stroke="#72725f" stroke-width="0.55" stroke-linejoin="round"/>
<path d="M691.3 613.4L694.2 620.3L699.2 624.2L695.2 627.2L697.2 637.1L702.1 644.0L697.2 646.9L687.3 646.9L683.4 649.9L678.4 645.9L674.5 639.0L672.5 629.2L674.5 622.2L683.4 622.2Z" fill="#EA742C" stroke="#72725f" stroke-width="0.55" stroke-linejoin="round"/>
<path d="M676.4 662.0L677.4 659.0L683.4 650.0L687.3 647.0L697.2 647.0L702.1 644.0L707.1 649.0L710.0 651.9L711.0 651.9L708.0 673.9L702.1 671.9L696.2 674.8L689.3 666.0L683.4 666.9L676.4 668.9Z" fill="#F2B11F" stroke="#72725f" stroke-width="0.55" stroke-linejoin="round"/>
<path d="M621.1 678.8L626.1 671.9L649.8 678.8L652.7 672.9L654.7 665.0L661.6 660.0L663.6 666.9L671.5 663.0L668.5 677.8L667.6 689.7L663.6 694.6L657.7 695.6L652.7 705.1L630.0 687.7Z" fill="#EA762C" stroke="#72725f" stroke-width="0.55" stroke-linejoin="round"/>
<path d="M671.5 663.0L676.4 662.0L676.4 668.9L683.4 666.9L689.3 666.0L696.2 674.8L702.1 671.9L708.0 673.9L708.6 682.7L705.1 691.6L704.1 702.5L700.1 703.5L699.2 695.6L694.2 692.6L687.3 694.6L679.4 695.6L678.4 705.5L672.5 716.7L652.7 705.1L657.7 695.6L663.6 694.6L667.6 689.7L668.5 677.8Z" fill="#EE8D26" stroke="#72725f" stroke-width="0.55" stroke-linejoin="round"/>
<path d="M708.6 682.7L714.0 685.7L718.9 688.7L726.8 681.4L734.7 687.7L738.7 683.7L745.6 684.7L751.5 699.5L746.6 717.3L745.6 727.6L734.7 728.2L711.0 728.2L693.2 725.2L672.5 716.7L678.4 705.5L679.4 695.6L687.3 694.6L694.2 692.6L699.2 695.6L700.1 703.5L704.1 702.5L705.1 691.6Z" fill="#F2C11F" stroke="#72725f" stroke-width="0.55" stroke-linejoin="round"/>
<path d="M715.9 642.1L726.8 641.1L738.7 642.1L749.5 645.0L742.6 650.2L737.7 660.0L735.7 668.9L728.8 676.8L726.8 681.4L718.9 688.7L714.0 685.7L708.6 682.7L708.0 673.9L711.0 651.9L714.0 650.0Z" fill="#F0A022" stroke="#72725f" stroke-width="0.55" stroke-linejoin="round"/>
<path d="M737.7 660.0L746.6 662.0L748.5 669.9L745.6 672.9L745.6 684.7L738.7 683.7L734.7 687.7L726.8 681.4L728.8 676.8L735.7 668.9Z" fill="#E2C520" stroke="#72725f" stroke-width="0.55" stroke-linejoin="round"/>
<path d="M749.5 645.0L758.4 645.0L766.3 643.0L768.3 646.0L773.2 650.9L774.2 657.9L782.1 663.8L778.2 671.9L778.2 677.8L768.3 679.8L763.3 689.7L758.4 696.6L751.5 699.5L745.6 684.7L745.6 672.9L748.5 669.9L746.6 662.0L737.7 660.0L742.6 650.2Z" fill="#EE8A27" stroke="#72725f" stroke-width="0.55" stroke-linejoin="round"/>
<path d="M778.2 677.8L790.0 680.8L797.9 684.7L794.9 689.7L786.1 693.6L784.1 698.5L794.9 706.4L794.9 712.4L788.0 717.3L786.1 721.3L778.2 721.3L776.2 725.2L784.1 733.1L781.1 738.6L758.4 730.1L745.6 727.6L746.6 717.3L751.5 699.5L758.4 696.6L763.3 689.7L768.3 679.8Z" fill="#A4C636" stroke="#72725f" stroke-width="0.55" stroke-linejoin="round"/>
<path d="M797.9 684.7L812.7 681.8L817.7 677.8L830.5 674.8L836.4 678.8L840.4 676.8L843.3 682.7L840.4 687.7L836.4 693.6L840.4 702.5L827.5 709.4L823.6 718.3L817.7 716.3L809.8 721.3L797.9 731.1L791.0 738.0L793.0 743.4L781.1 738.6L784.1 733.1L776.2 725.2L778.2 721.3L786.1 721.3L788.0 717.3L794.9 712.4L794.9 706.4L784.1 698.5L786.1 693.6L794.9 689.7Z" fill="#DFC521" stroke="#72725f" stroke-width="0.55" stroke-linejoin="round"/>
<path d="M782.1 663.8L794.9 658.8L799.9 651.9L811.7 646.0L815.7 649.0L824.6 656.9L829.5 658.8L827.5 668.9L830.5 674.8L817.7 677.8L812.7 681.8L797.9 684.7L790.0 680.8L778.2 677.8L778.2 671.9Z" fill="#F0A022" stroke="#72725f" stroke-width="0.55" stroke-linejoin="round"/>
<path d="M827.5 648.0L845.3 645.0L865.1 644.0L870.0 640.1L867.0 649.2L874.0 660.0L872.0 669.9L865.1 672.9L855.2 682.7L845.3 685.7L840.4 676.8L836.4 678.8L830.5 674.8L827.5 668.9L829.5 658.8L824.6 656.9Z" fill="#F2B01F" stroke="#72725f" stroke-width="0.55" stroke-linejoin="round"/>
<path d="M812.7 621.7L822.6 621.3L828.5 624.2L833.5 620.3L851.2 615.3L861.1 610.4L870.0 611.4L869.0 619.3L871.0 629.2L870.0 640.0L865.1 644.0L845.3 645.0L827.5 647.9L824.6 656.8L815.7 648.9L811.7 645.9L815.7 642.0L813.7 635.1L818.7 633.1L810.7 625.2Z" fill="#ECC51C" stroke="#72725f" stroke-width="0.55" stroke-linejoin="round"/>
<path d="M812.7 621.7L803.8 622.2L790.0 631.1L774.2 645.0L768.3 645.9L773.2 650.9L774.2 657.8L782.1 663.7L794.9 658.8L799.9 651.9L811.7 645.9L815.7 642.0L813.7 635.1L818.7 633.1L810.7 625.2Z" fill="#2ECC71" stroke="#72725f" stroke-width="0.55" stroke-linejoin="round"/>
<path d="M745.6 604.5L749.5 606.4L752.5 613.4L756.4 616.3L760.4 609.4L774.2 613.4L790.0 611.8L805.8 611.4L809.8 609.4L812.7 610.4L812.7 621.7L803.8 622.2L790.0 631.1L774.2 645.0L768.3 645.9L766.3 643.0L758.4 645.0L749.5 645.0L744.6 635.1L738.7 629.2L734.7 623.2L733.7 615.3L736.7 614.3L742.6 609.4Z" fill="#F2B91E" stroke="#72725f" stroke-width="0.55" stroke-linejoin="round"/></g>
<text x="384.6" y="414.4" font-size="11.3" fill="#252525" textLength="61" lengthAdjust="spacingAndGlyphs">Diferendum</text>
<text x="384.6" y="434.15" font-size="11.3" fill="#252525" textLength="49.5" lengthAdjust="spacingAndGlyphs">territorial,</text>
<text x="384.6" y="453.9" font-size="11.3" fill="#252525" textLength="42.5" lengthAdjust="spacingAndGlyphs">insular y</text>
<text x="384.6" y="473.65" font-size="11.3" fill="#252525" textLength="46.5" lengthAdjust="spacingAndGlyphs">maritimo</text>
<text x="384.6" y="493.4" font-size="11.3" fill="#252525" textLength="52" lengthAdjust="spacingAndGlyphs">pendiente</text>
<text x="384.6" y="513.15" font-size="11.3" fill="#252525" textLength="57.3" lengthAdjust="spacingAndGlyphs">de resolver</text>
<text x="872.5" y="416.5" font-size="11.3" fill="#252525" textLength="61" lengthAdjust="spacingAndGlyphs">Diferendum</text>
<text x="872.5" y="436.25" font-size="11.3" fill="#252525" textLength="49.5" lengthAdjust="spacingAndGlyphs">territorial,</text>
<text x="872.5" y="456.0" font-size="11.3" fill="#252525" textLength="42.5" lengthAdjust="spacingAndGlyphs">insular y</text>
<text x="872.5" y="475.75" font-size="11.3" fill="#252525" textLength="46.5" lengthAdjust="spacingAndGlyphs">maritimo</text>
<text x="872.5" y="495.5" font-size="11.3" fill="#252525" textLength="52" lengthAdjust="spacingAndGlyphs">pendiente</text>
<text x="872.5" y="515.25" font-size="11.3" fill="#252525" textLength="57.3" lengthAdjust="spacingAndGlyphs">de resolver</text>
<text x="464.3" y="728.6" font-size="11.8" fill="#fff" textLength="40" lengthAdjust="spacingAndGlyphs" text-anchor="middle" font-weight="bold">Ver por</text>
<text x="464.3" y="744.2" font-size="11.8" fill="#fff" textLength="54" lengthAdjust="spacingAndGlyphs" text-anchor="middle" font-weight="bold">municipio</text>
<text x="959.3" y="731.6" font-size="11.8" fill="#fff" textLength="40" lengthAdjust="spacingAndGlyphs" text-anchor="middle" font-weight="bold">Ver por</text>
<text x="959.3" y="747.2" font-size="11.8" fill="#fff" textLength="54" lengthAdjust="spacingAndGlyphs" text-anchor="middle" font-weight="bold">municipio</text>
<line x1="1183.5" y1="167" x2="1183.5" y2="330" stroke="#c8c8c8" stroke-width="1" stroke-dasharray="1 4"/>
<line x1="1326.5" y1="167" x2="1326.5" y2="330" stroke="#c8c8c8" stroke-width="1" stroke-dasharray="1 4"/>
<rect x="1183" y="175.70" width="197.8" height="17.3" fill="#1b3b6f"/>
<text x="1172.5" y="188.85" font-size="11.8" fill="#6e6e6e" textLength="54.5" lengthAdjust="spacingAndGlyphs" text-anchor="end">Guatemala</text>
<text x="1383.8" y="188.39999999999998" font-size="11.6" fill="#1c3f73" font-weight="bold">13,83 %</text>
<rect x="1183" y="200.70" width="104.7" height="17.3" fill="#1b3b6f"/>
<text x="1172.5" y="213.85" font-size="11.8" fill="#6e6e6e" textLength="28" lengthAdjust="spacingAndGlyphs" text-anchor="end">Peten</text>
<text x="1297.2" y="213.39999999999998" font-size="11.6" fill="#1c3f73" font-weight="bold">7,32 %</text>
<rect x="1183" y="225.70" width="104.4" height="17.3" fill="#1b3b6f"/>
<text x="1172.5" y="238.85" font-size="11.8" fill="#6e6e6e" textLength="58.75" lengthAdjust="spacingAndGlyphs" text-anchor="end">San Marcos</text>
<text x="1296.9" y="238.39999999999998" font-size="11.6" fill="#1c3f73" font-weight="bold">7,30 %</text>
<rect x="1183" y="250.70" width="98.8" height="17.3" fill="#1b3b6f"/>
<text x="1172.5" y="263.84999999999997" font-size="11.8" fill="#6e6e6e" textLength="44.25" lengthAdjust="spacingAndGlyphs" text-anchor="end">Escuintla</text>
<text x="1291.3" y="263.4" font-size="11.6" fill="#1c3f73" font-weight="bold">6,91 %</text>
<rect x="1183" y="275.70" width="80.7" height="17.3" fill="#1b3b6f"/>
<text x="1172.5" y="288.84999999999997" font-size="11.8" fill="#6e6e6e" textLength="82.5" lengthAdjust="spacingAndGlyphs" text-anchor="end">Huehuetenango</text>
<text x="1273.2" y="288.4" font-size="11.6" fill="#1c3f73" font-weight="bold">5,64 %</text>
<rect x="1183" y="300.70" width="78.1" height="17.3" fill="#1b3b6f"/>
<text x="1172.5" y="313.84999999999997" font-size="11.8" fill="#6e6e6e" textLength="55.5" lengthAdjust="spacingAndGlyphs" text-anchor="end">Santa Rosa</text>
<text x="1270.6" y="313.4" font-size="11.6" fill="#1c3f73" font-weight="bold">5,46 %</text>
<text x="1183.5" y="347" font-size="12" fill="#777" text-anchor="middle">0 %</text>
<text x="1326.5" y="347" font-size="12" fill="#777" text-anchor="middle">10 %</text>
<text x="1305" y="362" font-size="12.6" fill="#252525" textLength="144" lengthAdjust="spacingAndGlyphs" text-anchor="middle">% de distribución territorial</text>
<text transform="translate(1067.3,247) rotate(-90)" font-size="12.5" fill="#252525" text-anchor="middle" textLength="74.5" lengthAdjust="spacingAndGlyphs">Departamento</text>
<rect x="1442" y="166" width="9" height="164" fill="#f3f3f3"/><rect x="1442" y="166" width="9" height="38" fill="#c8c8c8"/>
<line x1="1183.5" y1="431" x2="1183.5" y2="735" stroke="#c8c8c8" stroke-width="1" stroke-dasharray="1 4"/>
<line x1="1323.3" y1="431" x2="1323.3" y2="735" stroke="#c8c8c8" stroke-width="1" stroke-dasharray="1 4"/>
<rect x="1183" y="441.25" width="154.5" height="17.3" fill="#1b3b6f"/>
<text x="1172.5" y="454.4" font-size="11.8" fill="#6e6e6e" textLength="54.5" lengthAdjust="spacingAndGlyphs" text-anchor="end">Guatemala</text>
<text x="1346.5" y="453.75" font-size="11.6" fill="#1c3f73" textLength="50.7" lengthAdjust="spacingAndGlyphs" font-weight="bold">2,2 mil M</text>
<rect x="1183" y="465.25" width="71.5" height="17.3" fill="#1b3b6f"/>
<text x="1172.5" y="478.4" font-size="11.8" fill="#6e6e6e" textLength="82.5" lengthAdjust="spacingAndGlyphs" text-anchor="end">Huehuetenango</text>
<text x="1263.5" y="477.75" font-size="11.6" fill="#1c3f73" textLength="50.7" lengthAdjust="spacingAndGlyphs" font-weight="bold">1,0 mil M</text>
<rect x="1183" y="489.25" width="66.5" height="17.3" fill="#1b3b6f"/>
<text x="1172.5" y="502.4" font-size="11.8" fill="#6e6e6e" textLength="58.75" lengthAdjust="spacingAndGlyphs" text-anchor="end">San Marcos</text>
<text x="1258.5" y="501.75" font-size="11.6" fill="#1c3f73" textLength="50.7" lengthAdjust="spacingAndGlyphs" font-weight="bold">1,0 mil M</text>
<rect x="1183" y="513.25" width="64.8" height="17.3" fill="#1b3b6f"/>
<text x="1172.5" y="526.4" font-size="11.8" fill="#6e6e6e" textLength="63.25" lengthAdjust="spacingAndGlyphs" text-anchor="end">Alta Verapaz</text>
<text x="1256.8" y="525.75" font-size="11.6" fill="#1c3f73" textLength="50.7" lengthAdjust="spacingAndGlyphs" font-weight="bold">0,9 mil M</text>
<rect x="1183" y="537.25" width="62.5" height="17.3" fill="#1b3b6f"/>
<text x="1172.5" y="550.4" font-size="11.8" fill="#6e6e6e" textLength="35.5" lengthAdjust="spacingAndGlyphs" text-anchor="end">Quiché</text>
<text x="1254.5" y="549.75" font-size="11.6" fill="#1c3f73" textLength="50.7" lengthAdjust="spacingAndGlyphs" font-weight="bold">0,9 mil M</text>
<rect x="1183" y="561.25" width="55.0" height="17.3" fill="#1b3b6f"/>
<text x="1172.5" y="574.4" font-size="11.8" fill="#6e6e6e" textLength="28" lengthAdjust="spacingAndGlyphs" text-anchor="end">Peten</text>
<text x="1247" y="573.75" font-size="11.6" fill="#1c3f73" textLength="50.7" lengthAdjust="spacingAndGlyphs" font-weight="bold">0,8 mil M</text>
<rect x="1183" y="585.25" width="53.0" height="17.3" fill="#1b3b6f"/>
<text x="1172.5" y="598.4" font-size="11.8" fill="#6e6e6e" textLength="44.25" lengthAdjust="spacingAndGlyphs" text-anchor="end">Escuintla</text>
<text x="1245" y="597.75" font-size="11.6" fill="#1c3f73" textLength="50.7" lengthAdjust="spacingAndGlyphs" font-weight="bold">0,8 mil M</text>
<rect x="1183" y="609.25" width="44.0" height="17.3" fill="#1b3b6f"/>
<text x="1172.5" y="622.4" font-size="11.8" fill="#6e6e6e" textLength="81.75" lengthAdjust="spacingAndGlyphs" text-anchor="end">Quetzaltenango</text>
<text x="1236" y="621.75" font-size="11.6" fill="#1c3f73" textLength="50.7" lengthAdjust="spacingAndGlyphs" font-weight="bold">0,6 mil M</text>
<rect x="1183" y="633.25" width="42.0" height="17.3" fill="#1b3b6f"/>
<text x="1172.5" y="646.4" font-size="11.8" fill="#6e6e6e" textLength="29.25" lengthAdjust="spacingAndGlyphs" text-anchor="end">Izabal</text>
<text x="1234" y="645.75" font-size="11.6" fill="#1c3f73" textLength="50.7" lengthAdjust="spacingAndGlyphs" font-weight="bold">0,6 mil M</text>
<rect x="1183" y="657.25" width="38.3" height="17.3" fill="#1b3b6f"/>
<text x="1172.5" y="670.4" font-size="11.8" fill="#6e6e6e" textLength="58" lengthAdjust="spacingAndGlyphs" text-anchor="end">Chiquimula</text>
<text x="1230.3" y="669.75" font-size="11.6" fill="#1c3f73" textLength="50.7" lengthAdjust="spacingAndGlyphs" font-weight="bold">0,5 mil M</text>
<rect x="1183" y="681.25" width="38.0" height="17.3" fill="#1b3b6f"/>
<text x="1172.5" y="694.4" font-size="11.8" fill="#6e6e6e" textLength="78" lengthAdjust="spacingAndGlyphs" text-anchor="end">Chimaltenango</text>
<text x="1230" y="693.75" font-size="11.6" fill="#1c3f73" textLength="50.7" lengthAdjust="spacingAndGlyphs" font-weight="bold">0,5 mil M</text>
<rect x="1183" y="705.25" width="38.0" height="17.3" fill="#1b3b6f"/>
<text x="1172.5" y="718.4" font-size="11.8" fill="#6e6e6e" textLength="35.5" lengthAdjust="spacingAndGlyphs" text-anchor="end">Jutiapa</text>
<text x="1230" y="717.75" font-size="11.6" fill="#1c3f73" textLength="50.7" lengthAdjust="spacingAndGlyphs" font-weight="bold">0,5 mil M</text>
<text x="1183.4" y="750.4" font-size="12.4" fill="#777" textLength="43.3" lengthAdjust="spacingAndGlyphs" text-anchor="middle">0 mil M</text>
<text x="1323.3" y="750.4" font-size="12.4" fill="#777" textLength="43.3" lengthAdjust="spacingAndGlyphs" text-anchor="middle">2 mil M</text>
<text x="1301.4" y="767" font-size="12.6" fill="#252525" textLength="109.8" lengthAdjust="spacingAndGlyphs" text-anchor="middle">Monto por ejecutar</text>
<text transform="translate(1067.3,582.8) rotate(-90)" font-size="12.5" fill="#252525" text-anchor="middle" textLength="74.5" lengthAdjust="spacingAndGlyphs">Departamento</text>
<rect x="1442" y="431.5" width="9" height="301.5" fill="#f5f5f5"/><rect x="1442" y="431.5" width="9" height="143.3" fill="#c8c8c8"/>
</svg>
</div><div class="b" style="left:0;top:0;width:1520px;height:1px;background:#b3b3b3"></div></body></html>
